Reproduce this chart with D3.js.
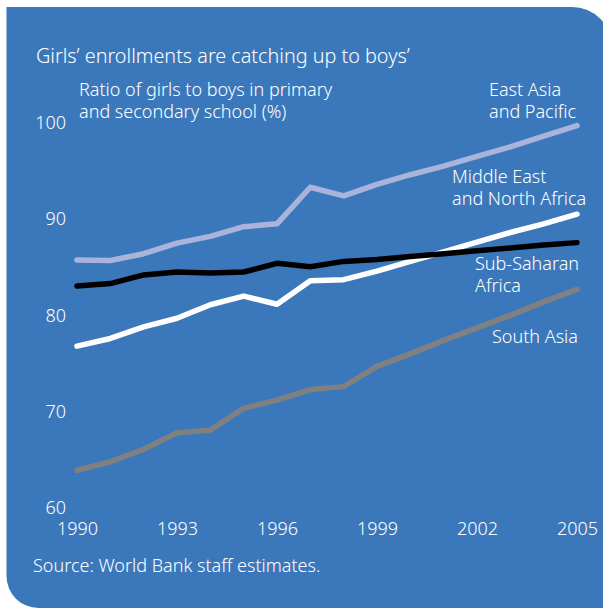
<!DOCTYPE html>
<html><head><meta charset="utf-8">
<script src="https://cdn.jsdelivr.net/npm/d3@7"></script>
<style>
html,body{margin:0;padding:0;background:#fff;}
text{font-family:"Noto Sans",Roboto,sans-serif;font-weight:300;fill:#fff;}
</style></head>
<body>
<svg id="c" width="603" height="609"></svg>
<script>
const years = d3.range(1990, 2006);
const eastAsia = [85.75, 85.7, 86.4, 87.5, 88.2, 89.2, 89.5, 93.3, 92.4, 93.6, 94.6, 95.5, 96.5, 97.5, 98.6, 99.7];
const subSaharan = [83.05, 83.3, 84.2, 84.5, 84.4, 84.5, 85.4, 85.05, 85.6, 85.8, 86.1, 86.4, 86.7, 87.0, 87.3, 87.55];
const menaValues = [76.8, 77.6, 78.8, 79.7, 81.1, 82.0, 81.15, 83.6, 83.7, 84.6, 85.6, 86.6, 87.6, 88.6, 89.5, 90.5];
const southAsia = [63.9, 64.8, 66.1, 67.8, 68.1, 70.35, 71.2, 72.3, 72.6, 74.7, 76.0, 77.4, 78.7, 80.0, 81.4, 82.7];
const yTicks = [60, 70, 80, 90, 100];
const xTicks = [1990, 1993, 1996, 1999, 2002, 2005];
const seriesNames = [["East Asia", "and Pacific"], ["Middle East", "and North Africa"], ["Sub-Saharan", "Africa"], ["South Asia"]];
const title = "Girls\u2019 enrollments are catching up to boys\u2019";
const yTitle = ["Ratio of girls to boys in primary", "and secondary school (%)"];
const source = "Source: World Bank staff estimates.";

const svg = d3.select("#c");
// background panel: square top-left & bottom-right, rounded top-right & bottom-left
const L = 6.5, T = 7, R = 612, B = 608, r1 = 40, r2 = 32;
svg.append("path")
  .attr("d", `M${L},${T} H${R - r1} A${r1},${r1} 0 0 1 ${R},${T + r1} V${B} H${L + r2} A${r2},${r2} 0 0 1 ${L},${B - r2} Z`)
  .attr("fill", "#3b78bb");

const x = d3.scaleLinear().domain([1990, 2005]).range([77, 577]);
const y = d3.scaleLinear().domain([60, 100]).range([508, 122.7]);

const fs = "18px";
const yAxis = svg.append("g").attr("transform", "translate(66,0)")
  .call(d3.axisLeft(y).tickValues(yTicks).tickSize(0).tickPadding(0));
yAxis.select(".domain").remove();
yAxis.selectAll("text").attr("fill", "#fff").style("font-size", fs).style("font-family", "Noto Sans").style("font-weight", 300);

const xAxis = svg.append("g").attr("transform", "translate(0,522)")
  .call(d3.axisBottom(x).tickValues(xTicks).tickFormat(d3.format("d")).tickSize(0).tickPadding(0));
xAxis.select(".domain").remove();
xAxis.selectAll("text").attr("fill", "#fff").style("font-size", fs).style("font-family", "Noto Sans").style("font-weight", 300);

const line = d3.line().x((d, i) => x(years[i])).y(d => y(d));
const series = [
  {v: southAsia, c: "#808080"},
  {v: eastAsia, c: "#a9b3dc"},
  {v: menaValues, c: "#ffffff"},
  {v: subSaharan, c: "#000000"}
];
series.forEach(s => {
  svg.append("path").attr("d", line(s.v)).attr("fill", "none")
    .attr("stroke", s.c).attr("stroke-width", 5.5)
    .attr("stroke-linecap", "round").attr("stroke-linejoin", "round");
});

svg.append("text").attr("x", 36).attr("y", 63).style("font-size", "19.8px").text(title);
yTitle.forEach((t, i) => svg.append("text").attr("x", 79).attr("y", 96 + i * 22).style("font-size", fs).text(t));

const labelPos = [[489, 96], [452, 183], [475, 270], [492, 343]];
seriesNames.forEach((lines, k) => {
  lines.forEach((t, i) => svg.append("text").attr("x", labelPos[k][0]).attr("y", labelPos[k][1] + i * 22)
    .style("font-size", fs).text(t));
});

svg.append("text").attr("x", 33).attr("y", 572).style("font-size", fs).text(source);
</script>
</body></html>
